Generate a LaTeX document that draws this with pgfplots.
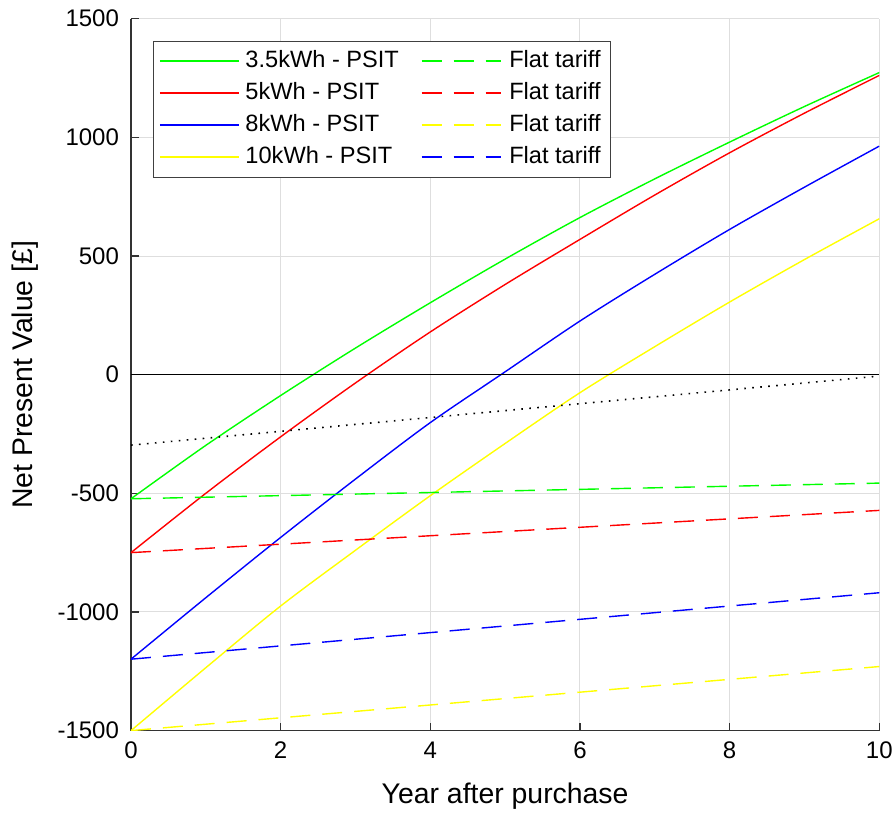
\documentclass[border=0pt]{standalone}
\usepackage{fontspec}
\setmainfont{Liberation Sans}
\usepackage{pgfplots}
\pgfplotsset{compat=1.18}
\usetikzlibrary{calc}
\definecolor{cg}{rgb}{0,1,0}
\definecolor{cr}{rgb}{1,0,0}
\definecolor{cb}{rgb}{0,0,1}
\definecolor{cy}{rgb}{1,1,0}
\definecolor{legframe}{rgb}{0.25,0.25,0.25}
\definecolor{axcol}{rgb}{0.2,0.2,0.2}
\definecolor{gridcol}{rgb}{0.87,0.87,0.87}
\pgfplotsset{
  limg/.style={legend image code/.code={\draw[draw=#1, line width=0.7pt] (0pt,0pt) -- (39.5pt,0pt);}},
  limgd/.style={legend image code/.code={\draw[draw=#1, line width=0.7pt, dash pattern=on 10pt off 6pt] (0pt,0pt) -- (39.5pt,0pt);}},
}

\begin{document}
\begin{tikzpicture}
\begin{axis}[
  name=ax,
  scale only axis, width=374.2pt, height=356pt,
  xmin=0, xmax=10, ymin=-1500, ymax=1500,
  xtick={0,2,4,6,8,10},
  ytick={-1500,-1000,-500,0,500,1000,1500},
  yticklabels={-1500,-1000,-500,0,500,1000,1500},
  xticklabels={0,2,4,6,8,10},
  axis x line*=bottom, axis y line*=left,
  axis line style={axcol, line width=0.7pt},
  tick align=inside, major tick length=4pt,
  tick style={axcol, line width=0.7pt},
  grid=major, grid style={gridcol, line width=0.5pt},
  ticklabel style={font=\fontsize{12}{14}\selectfont},
  yticklabel style={xshift=-2.5pt},
  xticklabel style={yshift=-2pt},
  xlabel={Year after purchase},
  ylabel={Net Present Value [£]},
  label style={font=\fontsize{14.2}{16}\selectfont},
  xlabel style={at={(axis description cs:0.5,-0.0927)}, anchor=center},
  ylabel style={at={(axis description cs:-0.1416,0.5)}, anchor=center},
  legend columns=4, transpose legend,
  legend cell align=left,
  legend style={at={(axis description cs:0.029,0.969)}, anchor=north west,
    draw=legframe, fill=white, inner xsep=3pt, inner ysep=2pt,
    font=\fontsize{11.8}{13}\selectfont,
    nodes={text height=8.5pt, text depth=2.5pt, inner ysep=2.5pt},
    /tikz/column 1/.style={column sep=1pt},
    /tikz/column 2/.style={column sep=9pt},
    /tikz/column 3/.style={column sep=2pt}},
  every axis plot/.append style={line width=0.7pt},
]
% solid PSIT
\addplot[cg, smooth, limg=cg] coordinates {(0,-523) (1,-298) (2,-88) (3,112) (4,303) (5,487) (6,662) (7,825) (8,980) (9,1130) (10,1273)};
\addlegendentry{3.5kWh - PSIT}
\addplot[cr, smooth, limg=cr] coordinates {(0,-750) (1,-500) (2,-262) (3,-35) (4,180) (5,380) (6,570) (7,757) (8,935) (9,1102) (10,1261)};
\addlegendentry{5kWh - PSIT}
\addplot[cb, smooth, limg=cb] coordinates {(0,-1199) (1,-940) (2,-686) (3,-440) (4,-202) (5,12) (6,226) (7,423) (8,612) (9,790) (10,963)};
\addlegendentry{8kWh - PSIT}
\addplot[cy, smooth, limg=cy] coordinates {(0,-1500) (1,-1235) (2,-975) (3,-740) (4,-510) (5,-290) (6,-76) (7,118) (8,306) (9,485) (10,657)};
\addlegendentry{10kWh - PSIT}
% dashed flat tariff
\addplot[cg, dash pattern=on 10pt off 6pt, limgd=cg] coordinates {(0,-523) (10,-457)};
\addlegendentry{Flat tariff}
\addplot[cr, dash pattern=on 10pt off 6pt, limgd=cr] coordinates {(0,-750) (10,-572)};
\addlegendentry{Flat tariff}
\addplot[cy, dash pattern=on 10pt off 6pt, limgd=cy] coordinates {(0,-1500) (10,-1230)};
\addlegendentry{Flat tariff}
\addplot[cb, dash pattern=on 10pt off 6pt, limgd=cb] coordinates {(0,-1199) (10,-919)};
\addlegendentry{Flat tariff}
% zero line and dotted line
\addplot[black, line width=0.6pt, forget plot] coordinates {(0,0) (10,0)};
\addplot[black, dash pattern=on 0.8pt off 3.2pt, line width=0.8pt, forget plot] coordinates {(0,-297) (10,-6)};
\end{axis}
\pgfresetboundingbox
\path ($(ax.south west)+(-65.5pt,-41.65pt)$) rectangle ($(ax.north east)+(8.35pt,9.35pt)$);
\end{tikzpicture}
\end{document}
